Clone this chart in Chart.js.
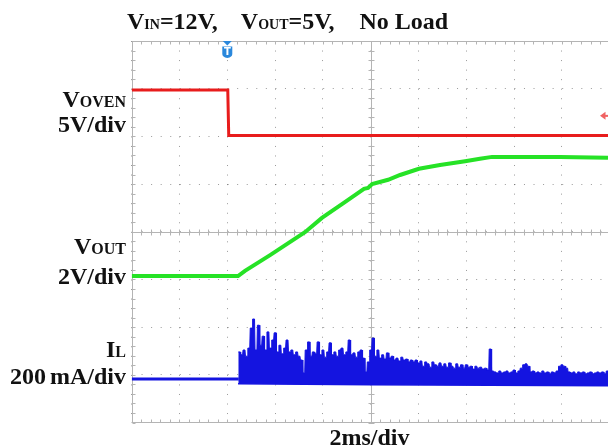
<!DOCTYPE html>
<html><head><meta charset="utf-8">
<script src="https://cdn.jsdelivr.net/npm/chart.js@4.4.1/dist/chart.umd.min.js"></script>
<style>
html,body{margin:0;padding:0;background:#fff;}
#wrap{position:relative;width:608px;height:448px;overflow:hidden;background:#fff;}
canvas{position:absolute;left:0;top:0;}
.t{position:absolute;font-family:"Liberation Serif","Times New Roman",serif;font-weight:bold;font-size:24px;line-height:24px;color:#111;white-space:nowrap;}
.s{font-size:16px;}
.ss{font-size:14px;}
.r{right:482px;text-align:right;}
</style></head><body>
<div id="wrap">
<canvas id="c" width="608" height="448"></canvas>
<div class="t" style="left:127px;top:9px;">V<span class="ss">IN</span>=12V,<span style="margin-left:23px">V</span><span class="ss">OUT</span>=5V,<span style="margin-left:25px">No Load</span></div>
<div class="t r" style="top:87px;">V<span class="s">OVEN</span></div>
<div class="t r" style="top:112px;">5V/div</div>
<div class="t r" style="top:234px;">V<span class="s">OUT</span></div>
<div class="t r" style="top:264px;">2V/div</div>
<div class="t r" style="top:337px;">I<span class="s">L</span></div>
<div class="t r" style="top:364px;">200<span style="margin-left:4px">mA/div</span></div>
<div class="t" style="left:0;width:739px;text-align:center;top:425px;">2ms/div</div>
</div>
<script>
// time axis in ms (2 ms/div), vertical values in screen divisions
const vovenTimes = [0, 4.02, 4.06, 19.93];
const vovenDiv   = [2.97, 2.97, 2.02, 2.02];

const voutTimes = [0, 4.45, 4.74, 5.79, 7.25, 7.96, 8.92, 9.72, 9.89, 10.06, 10.73, 11.23, 12.02, 12.9, 13.95, 14.57, 15.08, 16.25, 17.92, 19.93];
const voutDiv   = [-0.93, -0.93, -0.82, -0.49, -0.01, 0.29, 0.62, 0.90, 0.92, 1.00, 1.09, 1.19, 1.32, 1.40, 1.48, 1.53, 1.57, 1.57, 1.57, 1.55];

const ilPreTimes = [0, 4.48];
const ilPreDiv   = [-3.09, -3.09];
const ilBurstStart = 4.5;   // ms
const ilBurstStep  = 0.1;   // ms
const ilBurstTop = [
  -2.52,-2.58,-2.48,-2.61,-2.44,-2.02,-1.83,-2.48,-1.96,-2.38,
  -2.19,-2.48,-2.10,-2.44,-2.27,-2.12,-2.52,-2.38,-2.56,-2.44,
  -2.27,-2.52,-2.48,-2.58,-2.52,-2.61,-2.69,-2.96,-2.48,-2.31,
  -2.61,-2.52,-2.56,-2.31,-2.58,-2.48,-2.63,-2.52,-2.33,-2.58,
  -2.52,-2.61,-2.48,-2.44,-2.58,-2.52,-2.27,-2.58,-2.54,-2.63,
  -2.52,-2.48,-2.65,-2.94,-2.73,-2.48,-2.23,-2.61,-2.48,-2.65,
  -2.58,-2.67,-2.54,-2.65,-2.61,-2.69,-2.65,-2.71,-2.63,-2.69,
  -2.67,-2.73,-2.69,-2.73,-2.69,-2.75,-2.71,-2.82,-2.73,-2.77,
  -2.84,-2.73,-2.79,-2.82,-2.75,-2.82,-2.77,-2.84,-2.75,-2.82,
  -2.86,-2.77,-2.84,-2.79,-2.86,-2.79,-2.84,-2.82,-2.88,-2.82,
  -2.86,-2.84,-2.88,-2.86,-2.90,-2.46,-2.92,-2.94,-2.96,-2.92,
  -2.96,-2.94,-2.92,-2.96,-2.94,-2.90,-2.96,-2.92,-2.86,-2.79,
  -2.77,-2.82,-2.94,-2.92,-2.96,-2.94,-2.96,-2.92,-2.96,-2.94,
  -2.98,-2.94,-2.96,-2.92,-2.82,-2.79,-2.82,-2.86,-2.94,-2.96,
  -2.94,-2.98,-2.94,-2.96,-2.94,-2.98,-2.96,-2.94,-2.98,-2.96,
  -2.94,-2.96,-2.94,-2.98,-2.92,-2.94
];
const ilBottomTimes = [4.45, 10.0, 20.0];
const ilBottomDiv   = [-3.19, -3.21, -3.23];

const triggerTime = 4.0;    // ms
const ch1Marker = 2.43;     // div

const pts = (xs, ys) => xs.map((t, i) => ({x: t, y: ys[i]}));
// each sampled peak is held flat over most of its sample interval
const ilBurstData = [];
ilBurstTop.forEach((v, i) => {
  const t = ilBurstStart + i * ilBurstStep;
  ilBurstData.push({x: +(t - 0.04).toFixed(3), y: v}, {x: +(t + 0.04).toFixed(3), y: v});
});

const graticule = {
  id: 'graticule',
  beforeDatasetsDraw(chart) {
    const {ctx, chartArea: a, scales: {x, y}} = chart;
    ctx.save();
    ctx.strokeStyle = '#b4b4b4';
    ctx.lineWidth = 1;
    ctx.beginPath();
    const L = Math.round(a.left) + 0.5, T = Math.round(a.top) + 0.5, B = Math.round(a.bottom) - 0.5;
    const cx = Math.round(x.getPixelForValue(10)) + 0.5, cy = Math.round(y.getPixelForValue(0)) + 0.5;
    ctx.moveTo(L, T); ctx.lineTo(a.right, T);
    ctx.moveTo(L, T); ctx.lineTo(L, B);
    ctx.moveTo(L, B); ctx.lineTo(a.right, B);
    ctx.moveTo(L, cy); ctx.lineTo(a.right, cy);
    ctx.moveTo(cx, T); ctx.lineTo(cx, B);
    for (let i = 0; i <= 50; i++) {
      const px = Math.round(x.getPixelForValue(i * 0.4)) + 0.5;
      if (px > a.right) break;
      ctx.moveTo(px, T); ctx.lineTo(px, T + 3);
      ctx.moveTo(px, B); ctx.lineTo(px, B - 3);
      ctx.moveTo(px, cy - 3); ctx.lineTo(px, cy + 3);
    }
    for (let i = 0; i <= 40; i++) {
      const py = Math.round(y.getPixelForValue(-4 + i * 0.2)) + 0.5;
      ctx.moveTo(L, py); ctx.lineTo(L + 3, py);
      ctx.moveTo(cx - 3, py); ctx.lineTo(cx + 3, py);
    }
    ctx.stroke();
    ctx.restore();
  },
  afterDatasetsDraw(chart) {
    const {ctx, chartArea: a, scales: {x, y}} = chart;
    ctx.save();
    const tx = x.getPixelForValue(triggerTime), top = a.top;
    ctx.fillStyle = '#2a88dc';
    ctx.beginPath();
    ctx.moveTo(tx - 4.5, top); ctx.lineTo(tx + 4.5, top); ctx.lineTo(tx, top + 4.5); ctx.closePath(); ctx.fill();
    ctx.beginPath();
    ctx.moveTo(tx - 5, top + 5.5); ctx.lineTo(tx + 5, top + 5.5); ctx.lineTo(tx + 5, top + 13);
    ctx.quadraticCurveTo(tx + 5, top + 16, tx, top + 17);
    ctx.quadraticCurveTo(tx - 5, top + 16, tx - 5, top + 13);
    ctx.closePath(); ctx.fill();
    ctx.fillStyle = '#ffffff';
    ctx.font = 'bold 10px "DejaVu Sans"';
    ctx.textAlign = 'center'; ctx.textBaseline = 'middle';
    ctx.fillText('T', tx, top + 11);
    const ay = y.getPixelForValue(ch1Marker), ax = a.right - 8;
    ctx.fillStyle = '#f06262';
    ctx.beginPath(); ctx.moveTo(ax, ay); ctx.lineTo(ax + 5.5, ay - 4); ctx.lineTo(ax + 5.5, ay + 4); ctx.closePath(); ctx.fill();
    ctx.fillRect(ax + 4, ay - 1, 5, 2);
    ctx.restore();
  }
};

new Chart(document.getElementById('c'), {
  type: 'line',
  data: {
    datasets: [
      { label: 'IL', data: ilBurstData, borderColor: '#1414e0', backgroundColor: '#1414e0', borderWidth: 1, fill: '+1', pointRadius: 0 },
      { label: 'IL low', data: pts(ilBottomTimes, ilBottomDiv), borderColor: '#1414e0', borderWidth: 1.5, fill: false, pointRadius: 0 },
      { label: 'IL base', data: pts(ilPreTimes, ilPreDiv), borderColor: '#1414e0', borderWidth: 3, fill: false, pointRadius: 0 },
      { label: 'VOUT', data: pts(voutTimes, voutDiv), borderColor: '#26e226', borderWidth: 4, fill: false, pointRadius: 0 },
      { label: 'VOVEN', data: pts(vovenTimes, vovenDiv), borderColor: '#e81c1c', borderWidth: 3, fill: false, pointRadius: 0 }
    ]
  },
  options: {
    responsive: false,
    animation: false,
    events: [],
    layout: { padding: { left: 131.7, top: 41, right: 0, bottom: 25.5 } },
    plugins: { legend: { display: false }, tooltip: { enabled: false }, title: { display: false }, filler: { propagate: false } },
    scales: {
      x: {
        type: 'linear', min: 0, max: 19.93,
        ticks: { display: false, stepSize: 2, includeBounds: false },
        grid: { drawTicks: false, color: 'rgba(0,0,0,0.4)', lineWidth: 1 },
        border: { display: false, dash: [1, 8.54] },
        afterFit: s => { s.height = 0; }
      },
      y: {
        type: 'linear', min: -4, max: 4,
        ticks: { display: false, stepSize: 1 },
        grid: { drawTicks: false, color: 'rgba(0,0,0,0.4)', lineWidth: 1 },
        border: { display: false, dash: [1, 8.56] },
        afterFit: s => { s.width = 0; }
      }
    }
  },
  plugins: [graticule]
});
</script>
</body></html>
